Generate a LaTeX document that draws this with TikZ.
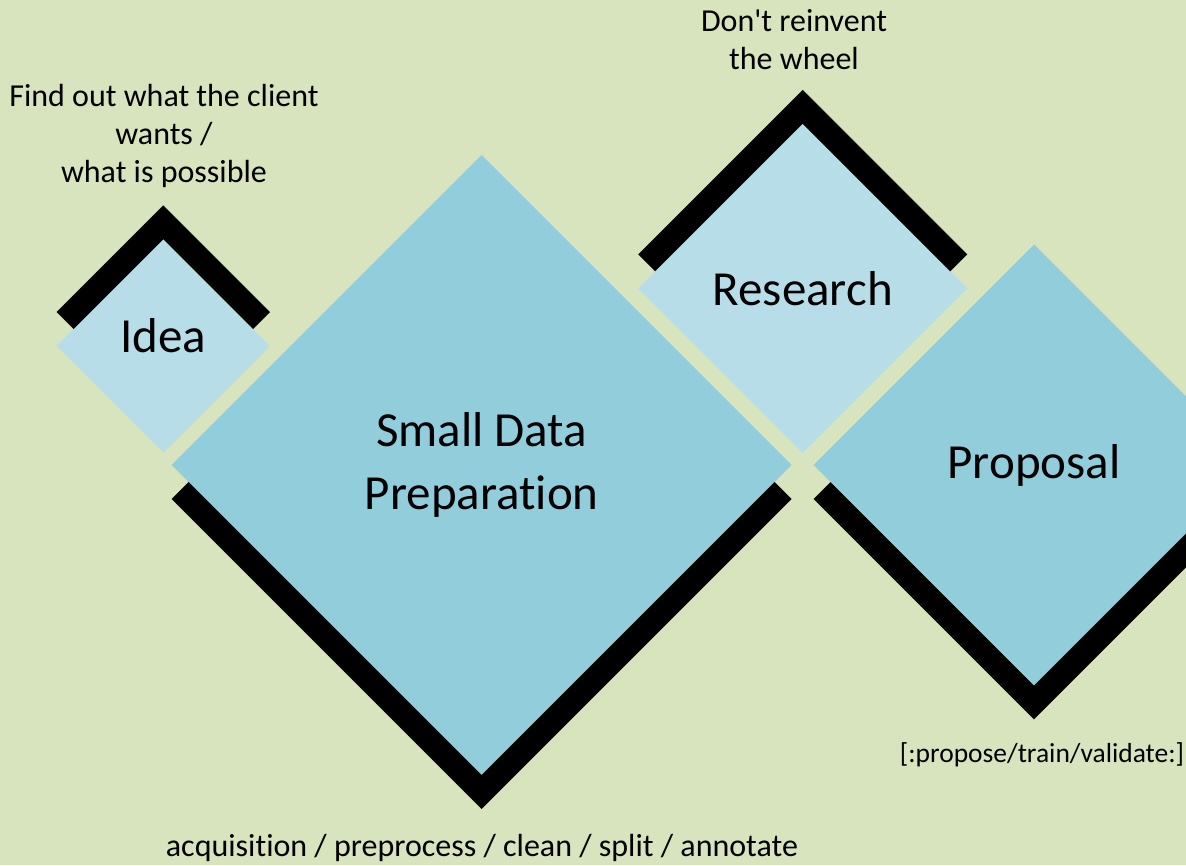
\documentclass[tikz,border=0pt]{standalone}
\usepackage{fontspec}
\setmainfont{Carlito}[Ligatures={TeX,NoCommon}]
\usetikzlibrary{shapes.geometric,calc}
\definecolor{olivebg}{HTML}{D7E4BD}
\definecolor{aqualight}{HTML}{B7DEE8}
\definecolor{aquamid}{HTML}{92CDDC}

\begin{document}
\begin{tikzpicture}[x=1pt, y=-1pt,
	dia/.style = {diamond, aspect=1, inner sep=0pt, outer sep=0pt, align=center, font=\fontsize{49}{63}\selectfont},
	chev/.style = {line width=24pt, line cap=butt, line join=miter},
	note/.style = {align=center, font=\fontsize{32}{38}\selectfont}]
	\useasboundingbox (0,0) rectangle (1186,865);
	\clip (0,0) rectangle (1186,865);
	\fill[olivebg] (0,0) rectangle (1186,865);
	
	\node[dia, fill=aqualight, minimum size=213.4pt, text height=34pt, text depth=22pt] (idea) at (163.3,346) {Idea};
	\node[dia, fill=aquamid, minimum size=620pt] (sdp) at (481.7,465) {Small Data\\Preparation};
	\node[dia, fill=aqualight, minimum size=329pt] (res) at (802.7,288.3) {Research};
	\node[dia, fill=aquamid, minimum size=441pt] (prop) at (1034,465) {Proposal};
	
	% black edges
	\draw[chev] ($(idea.west)+(8.5,-25.5)$) -- ($(idea.north)+(0,-17)$) -- ($(idea.east)+(-8.5,-25.5)$);
	\draw[chev] ($(res.west)+(8.5,-25.5)$) -- ($(res.north)+(0,-17)$) -- ($(res.east)+(-8.5,-25.5)$);
	\draw[chev] ($(sdp.west)+(8.5,25.5)$) -- ($(sdp.south)+(0,17)$) -- ($(sdp.east)+(-8.5,25.5)$);
	\draw[chev] ($(prop.west)+(8.5,25.5)$) -- ($(prop.south)+(0,17)$) -- ($(prop.east)+(-8.5,25.5)$);
	
	\node[note] (ideanote) at (164,136) {Find out what the client\\wants /\\what is possible};
	\node[note] (resnote) at (794,40) {Don\textquotesingle t reinvent\\the wheel};
	\node[note] (sdpnote) at (482,848) {acquisition / preprocess / clean / split / annotate};
	\node[note, font=\fontsize{27.5}{38}\selectfont] (propnote) at (1042,755) {[:propose/train/validate:]};
\end{tikzpicture}
\end{document}
